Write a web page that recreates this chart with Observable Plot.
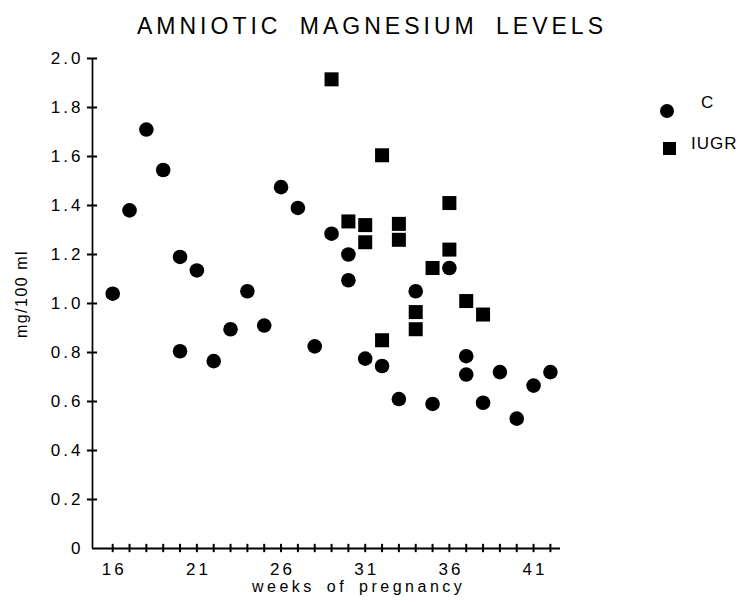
<!DOCTYPE html>
<html><head><meta charset="utf-8">
<script src="https://cdn.jsdelivr.net/npm/d3@7"></script>
<script src="https://cdn.jsdelivr.net/npm/@observablehq/plot@0.6"></script>
<style>
body{margin:0;background:#fff;}
#wrap{position:relative;width:739px;height:602px;font-family:"Liberation Sans",Arial,sans-serif;color:#000;}
#wrap svg{position:absolute;left:0;top:0;}
.title{position:absolute;left:137px;top:13px;font-size:23px;letter-spacing:4px;word-spacing:8px;white-space:nowrap;}
.xlabel{position:absolute;left:252px;top:580px;font-size:16px;line-height:14px;letter-spacing:3.5px;word-spacing:4px;white-space:nowrap;}
.ylabel{position:absolute;left:22px;top:294px;font-size:16px;letter-spacing:1.5px;white-space:nowrap;transform:translate(-50%,-50%) rotate(-90deg);}
.leg{position:absolute;font-size:17px;letter-spacing:1px;white-space:nowrap;}
.sym{position:absolute;background:#000;}
</style></head><body><div id="wrap"></div>
<script>
// Data
const seriesNames = ["C", "IUGR"];
const cWeeks  = [16, 17, 18, 19, 20, 20, 21, 22, 23, 24, 25, 26, 27, 28, 29, 30, 30, 31, 32, 33, 34, 35, 36, 37, 37, 38, 39, 40, 41, 42];
const cValues = [1.04, 1.38, 1.71, 1.545, 1.19, 0.805, 1.135, 0.765, 0.895, 1.05, 0.91, 1.475, 1.39, 0.825, 1.285, 1.20, 1.095, 0.775, 0.745, 0.61, 1.05, 0.59, 1.145, 0.785, 0.71, 0.595, 0.72, 0.53, 0.665, 0.72];
const iWeeks  = [29, 30, 31, 31, 32, 32, 33, 33, 34, 34, 35, 36, 36, 37, 38];
const iValues = [1.915, 1.335, 1.32, 1.25, 1.605, 0.85, 1.325, 1.26, 0.965, 0.895, 1.145, 1.41, 1.22, 1.01, 0.955];
const xTickLabels = [16, 21, 26, 31, 36, 41];
const xMinorTicks = [16,17,18,19,20,21,22,23,24,25,26,27,28,29,30,31,32,33,34,35,36,37,38,39,40,41,42];
const yTicks = [0, 0.2, 0.4, 0.6, 0.8, 1.0, 1.2, 1.4, 1.6, 1.8, 2.0];
const titleText = "AMNIOTIC MAGNESIUM LEVELS";
const xLabelText = "weeks of pregnancy";
const yLabelText = "mg/100 ml";

const cData = cWeeks.map((w, i) => ({week: w, value: cValues[i], group: seriesNames[0]}));
const iData = iWeeks.map((w, i) => ({week: w, value: iValues[i], group: seriesNames[1]}));

const xLo = 14.8, xHi = 42.6;
const xHalfTick = 0.3;    // half tick length in weeks (~5px)
const yHalfTick = 0.017;  // half tick length in mg/100 ml (~4px)

const chart = Plot.plot({
  width: 739, height: 602,
  marginLeft: 92, marginRight: 179, marginTop: 58, marginBottom: 54,
  style: {fontFamily: "'Liberation Sans', Arial, sans-serif", fontSize: "16px", letterSpacing: "3px", color: "black", background: "white"},
  x: {domain: [xLo, xHi]},
  y: {domain: [0, 2.0]},
  marks: [
    Plot.ruleX([xLo], {stroke: "black", strokeWidth: 1.7}),
    Plot.ruleY([0], {stroke: "black", strokeWidth: 2}),
    // crossing tick marks
    Plot.ruleY(yTicks.filter(d => d > 0), {y: d => d, x1: () => xLo - xHalfTick, x2: () => xLo + xHalfTick, stroke: "black", strokeWidth: 2}),
    Plot.ruleX(xMinorTicks, {x: d => d, y1: () => -yHalfTick, y2: () => yHalfTick, stroke: "black", strokeWidth: 2}),
    // tick labels
    Plot.axisY(yTicks, {tickSize: 0, tickPadding: 9, tickFormat: d => d === 0 ? "0" : d.toFixed(1), label: null, fontSize: 17}),
    Plot.axisX(xTickLabels, {tickSize: 0, tickPadding: 14, dx: 1.5, tickFormat: d => String(d), label: null, fontSize: 17}),
    Plot.dot(cData, {x: "week", y: "value", symbol: "circle", r: 7.3, fill: "black", stroke: "none"}),
    Plot.dot(iData, {x: "week", y: "value", symbol: "square", r: 7.9, fill: "black", stroke: "none"})
  ]
});

const wrap = document.getElementById("wrap");
wrap.appendChild(chart);
const add = (cls, text, css) => {const d = document.createElement("div"); d.className = cls; if (text) d.textContent = text; if (css) Object.assign(d.style, css); wrap.appendChild(d); return d;};
add("title", titleText);
add("xlabel", xLabelText);
add("ylabel", yLabelText);
// legend
add("sym", null, {left: "660px", top: "104px", width: "14px", height: "14px", borderRadius: "50%"});
add("leg", seriesNames[0], {left: "701px", top: "93px"});
add("sym", null, {left: "663px", top: "142px", width: "13px", height: "13px"});
add("leg", seriesNames[1], {left: "691px", top: "134px"});
</script>
</body></html>
